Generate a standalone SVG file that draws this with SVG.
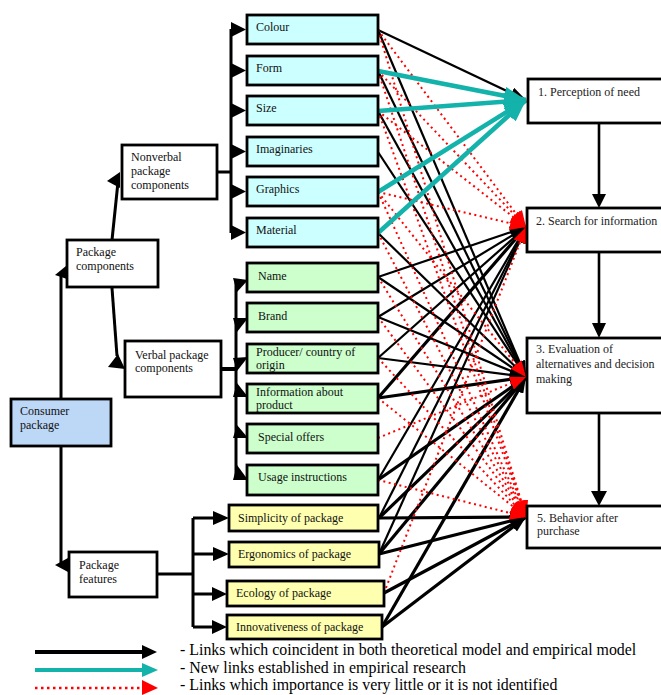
<svg xmlns="http://www.w3.org/2000/svg" width="661" height="695" viewBox="0 0 661 695">
<style>
.t{font-family:"Liberation Serif","Times New Roman",serif;font-size:12px;fill:#111}
.tr{font-family:"Liberation Serif","Times New Roman",serif;font-size:12px;fill:#222}
.lg{font-family:"Liberation Serif","Times New Roman",serif;font-size:15.9px;fill:#000}
.box{stroke:#000;stroke-width:2.8}
.nv{fill:#ccffff}
.vb{fill:#ccffcc}
.ft{fill:#ffffb0}
.wh{fill:#fff}
.tree{stroke:#000;stroke-width:3;fill:none}
.bk{stroke:#000;stroke-width:2.2;fill:none;marker-end:url(#ab)}
.bk3{stroke:#000;stroke-width:3.2;fill:none;marker-end:url(#ab)}
.rd{stroke:#f00;stroke-width:2;stroke-dasharray:2 3.5;fill:none;marker-end:url(#ar)}
.tl{stroke:#13b2aa;stroke-width:4.5;fill:none;marker-end:url(#at)}
</style>
<defs>
<marker id="ab" viewBox="0 0 16 12" refX="16" refY="6" markerWidth="16" markerHeight="12" markerUnits="userSpaceOnUse" orient="auto"><path d="M0,0L16,6L0,12z" fill="#000"/></marker>
<marker id="ar" viewBox="0 0 16 14" refX="16" refY="7" markerWidth="16" markerHeight="14" markerUnits="userSpaceOnUse" orient="auto"><path d="M0,0L16,7L0,14z" fill="#f00"/></marker>
<marker id="at" viewBox="0 0 22 18" refX="22" refY="9" markerWidth="22" markerHeight="18" markerUnits="userSpaceOnUse" orient="auto"><path d="M0,0L22,9L0,18z" fill="#13b2aa"/></marker>
</defs>
<rect width="661" height="695" fill="#fff"/>

<g id="connectors">
  <g id="tree">
    <path class="tree" d="M61,399L61,272"/>
    <polygon points="55,275 66,266 67,279" fill="#000"/>
    <path class="tree" d="M61,446L61,563"/>
    <polygon points="55,565 68,558 68,572" fill="#000"/>
    <path class="tree" d="M112,240L118,182"/>
    <polygon points="107,181 120,172 120,188" fill="#000"/>
    <path class="tree" d="M112,288L117,356"/>
    <polygon points="118,354 108,367 125,369" fill="#000"/>
    <path class="tree" d="M217,172L231,172M231,29L231,233"/>
    <polygon points="231,22 246,29.5 231,37" fill="#000"/>
    <polygon points="231,63 246,70.5 231,78" fill="#000"/>
    <polygon points="231,103 246,110.5 231,118" fill="#000"/>
    <polygon points="231,144 246,151.5 231,159" fill="#000"/>
    <polygon points="231,184 246,191.5 231,199" fill="#000"/>
    <polygon points="231,225 246,232.5 231,240" fill="#000"/>
    <path stroke="#000" stroke-width="4" d="M221,369L236,369"/>
    <path class="tree" d="M236,279L236,480"/>
    <polygon points="233,278 248,280 237,292" fill="#000"/>
    <polygon points="233,318 248,318 237,332" fill="#000"/>
    <polygon points="233,358 248,357 237,371" fill="#000"/>
    <polygon points="237,383 233,397 248,397" fill="#000"/>
    <polygon points="237,425 233,438 248,438" fill="#000"/>
    <polygon points="237,465 233,480 248,480" fill="#000"/>
    <path class="tree" d="M157,574L193,574M193,518L193,627M193,518L214,518M193,554L214,554M193,594L213,594M193,627L213,627"/>
    <polygon points="213,511 229,518 213,525" fill="#000"/>
    <polygon points="213,547 229,554 213,561" fill="#000"/>
    <polygon points="212,587 227,594 212,601" fill="#000"/>
    <polygon points="212,620 227,627 212,634" fill="#000"/>
    <path stroke="#000" stroke-width="2.6" d="M599,123L599,195M599,252L599,324M599,413L599,492"/>
    <polygon points="592,194 606,194 599,208" fill="#000"/>
    <polygon points="592,323 606,323 599,338" fill="#000"/>
    <polygon points="591,491 607,491 599,506" fill="#000"/>
  </g>
  <g id="black-links">
    <path class="bk" d="M378,30L526,100"/>
    <path class="bk" d="M378,30L526,377"/>
    <path class="bk" d="M378,71L526,377"/>
    <path class="bk" d="M378,111L526,377"/>
    <path class="bk" d="M378,152L526,377"/>
    <path class="bk" d="M378,233L526,377"/>
    <path class="bk" d="M378,277L526,227"/>
    <path class="bk" d="M378,277L526,377"/>
    <path class="bk" d="M378,317L526,227"/>
    <path class="bk" d="M378,317L526,377"/>
    <path class="bk" d="M378,358L526,227"/>
    <path class="bk" d="M378,358L526,377"/>
    <path class="bk3" d="M378,398L526,227"/>
    <path class="bk3" d="M378,398L526,377"/>
    <path class="bk" d="M378,480L526,227"/>
    <path class="bk3" d="M378,480L526,377"/>
    <path class="bk" d="M379,518L526,227"/>
    <path class="bk3" d="M379,518L526,377"/>
    <path class="bk3" d="M379,518L526,517"/>
    <path class="bk" d="M379,554L526,227"/>
    <path class="bk3" d="M379,554L526,377"/>
    <path class="bk3" d="M379,554L526,517"/>
    <path class="bk3" d="M384,593L526,517"/>
    <path class="bk3" d="M382,627L526,377"/>
    <path class="bk3" d="M382,627L526,517"/>
  </g>
  <g id="red-links">
    <path class="rd" d="M378,30L526,227"/>
    <path class="rd" d="M378,71L526,227"/>
    <path class="rd" d="M378,111L526,227"/>
    <path class="rd" d="M378,192L526,227"/>
    <path class="rd" d="M378,192L526,377"/>
    <path class="rd" d="M378,30L526,517"/>
    <path class="rd" d="M378,71L526,517"/>
    <path class="rd" d="M378,111L526,517"/>
    <path class="rd" d="M378,192L526,517"/>
    <path class="rd" d="M378,233L526,517"/>
    <path class="rd" d="M378,277L526,517"/>
    <path class="rd" d="M378,317L526,517"/>
    <path class="rd" d="M378,358L526,517"/>
    <path class="rd" d="M378,398L526,517"/>
    <path class="rd" d="M378,438L526,377"/>
    <path class="rd" d="M378,480L526,517"/>
    <path class="rd" d="M384,593L526,227"/>
  </g>
  <g id="teal-links">
    <path class="tl" d="M378,71L526,100"/>
    <path class="tl" d="M378,111L526,100"/>
    <path class="tl" d="M378,192L526,100"/>
    <path class="tl" d="M378,233L526,100"/>
  </g>
</g>

<g id="consumer-package"><rect class="box" x="11" y="399" width="100" height="47" fill="#bdd7f7"/><text class="t" x="20" y="415">Consumer</text><text class="t" x="20" y="429">package</text></g>
<g id="package-components"><rect class="box wh" x="67" y="240" width="91" height="47"/><text class="t" x="76" y="256">Package</text><text class="t" x="76" y="270">components</text></g>
<g id="package-features"><rect class="box wh" x="69" y="552" width="88" height="45"/><text class="t" x="79" y="569">Package</text><text class="t" x="79" y="583">features</text></g>
<g id="nonverbal"><rect class="box wh" x="122" y="145" width="95" height="54"/><text class="t" x="131" y="161">Nonverbal</text><text class="t" x="131" y="175">package</text><text class="t" x="131" y="189">components</text></g>
<g id="verbal"><rect class="box wh" x="125" y="341" width="96" height="56"/><text class="t" x="135" y="359">Verbal package</text><text class="t" x="135" y="372">components</text></g>

<g id="colour"><rect class="box nv" x="247" y="15" width="131" height="29"/><text class="t" x="256" y="31">Colour</text></g>
<g id="form"><rect class="box nv" x="247" y="56" width="131" height="29"/><text class="t" x="256" y="72">Form</text></g>
<g id="size"><rect class="box nv" x="247" y="96" width="131" height="29"/><text class="t" x="256" y="112">Size</text></g>
<g id="imaginaries"><rect class="box nv" x="247" y="137" width="131" height="29"/><text class="t" x="256" y="153">Imaginaries</text></g>
<g id="graphics"><rect class="box nv" x="247" y="177" width="131" height="29"/><text class="t" x="256" y="193">Graphics</text></g>
<g id="material"><rect class="box nv" x="247" y="218" width="131" height="29"/><text class="t" x="256" y="234">Material</text></g>

<g id="name"><rect class="box vb" x="247" y="263" width="131" height="29"/><text class="t" x="258" y="280">Name</text></g>
<g id="brand"><rect class="box vb" x="247" y="303" width="131" height="29"/><text class="t" x="258" y="320">Brand</text></g>
<g id="producer"><rect class="box vb" x="247" y="344" width="131" height="29"/><text class="t" x="256" y="356">Producer/ country of</text><text class="t" x="256" y="369">origin</text></g>
<g id="information"><rect class="box vb" x="247" y="384" width="131" height="29"/><text class="t" x="256" y="396">Information about</text><text class="t" x="256" y="409">product</text></g>
<g id="special-offers"><rect class="box vb" x="247" y="424" width="131" height="29"/><text class="t" x="258" y="441">Special offers</text></g>
<g id="usage"><rect class="box vb" x="247" y="465" width="131" height="30"/><text class="t" x="258" y="481">Usage instructions</text></g>

<g id="simplicity"><rect class="box ft" x="229" y="505" width="149" height="26"/><text class="t" x="238" y="522">Simplicity of package</text></g>
<g id="ergonomics"><rect class="box ft" x="229" y="542" width="150" height="25"/><text class="t" x="238" y="558">Ergonomics of package</text></g>
<g id="ecology"><rect class="box ft" x="227" y="581" width="157" height="25"/><text class="t" x="236" y="597">Ecology of package</text></g>
<g id="innovativeness"><rect class="box ft" x="227" y="615" width="155" height="24"/><text class="t" x="236" y="631">Innovativeness of package</text></g>

<g id="perception"><rect class="box wh" x="528" y="79" width="136" height="44"/><text class="tr" x="538" y="96">1. Perception of need</text></g>
<g id="search"><rect class="box wh" x="527" y="208" width="137" height="44"/><text class="tr" x="536" y="225">2. Search for information</text></g>
<g id="evaluation"><rect class="box wh" x="527" y="338" width="137" height="75"/><text class="tr" x="536" y="353">3. Evaluation of</text><text class="tr" x="536" y="368">alternatives and decision</text><text class="tr" x="536" y="383">making</text></g>
<g id="behavior"><rect class="box wh" x="527" y="506" width="137" height="42"/><text class="tr" x="537" y="522">5. Behavior after</text><text class="tr" x="537" y="535">purchase</text></g>

<g id="legend">
  <path stroke="#000" stroke-width="4" d="M35,652L143,652"/>
  <polygon points="142,645 157,652 142,659" fill="#000"/>
  <path stroke="#13b2aa" stroke-width="4" d="M35,670L143,670"/>
  <polygon points="142,663 158,670 142,677" fill="#13b2aa"/>
  <path stroke="#f00" stroke-width="2.5" stroke-dasharray="2.5 3.5" d="M35,688L143,688"/>
  <polygon points="142,680 158,688 142,695" fill="#f00"/>
  <text class="lg" x="180" y="655">- Links which coincident in both theoretical model and empirical model</text>
  <text class="lg" x="180" y="673">- New links established in empirical research</text>
  <text class="lg" x="180" y="690">- Links which importance is very little or it is not identified</text>
</g>
</svg>
